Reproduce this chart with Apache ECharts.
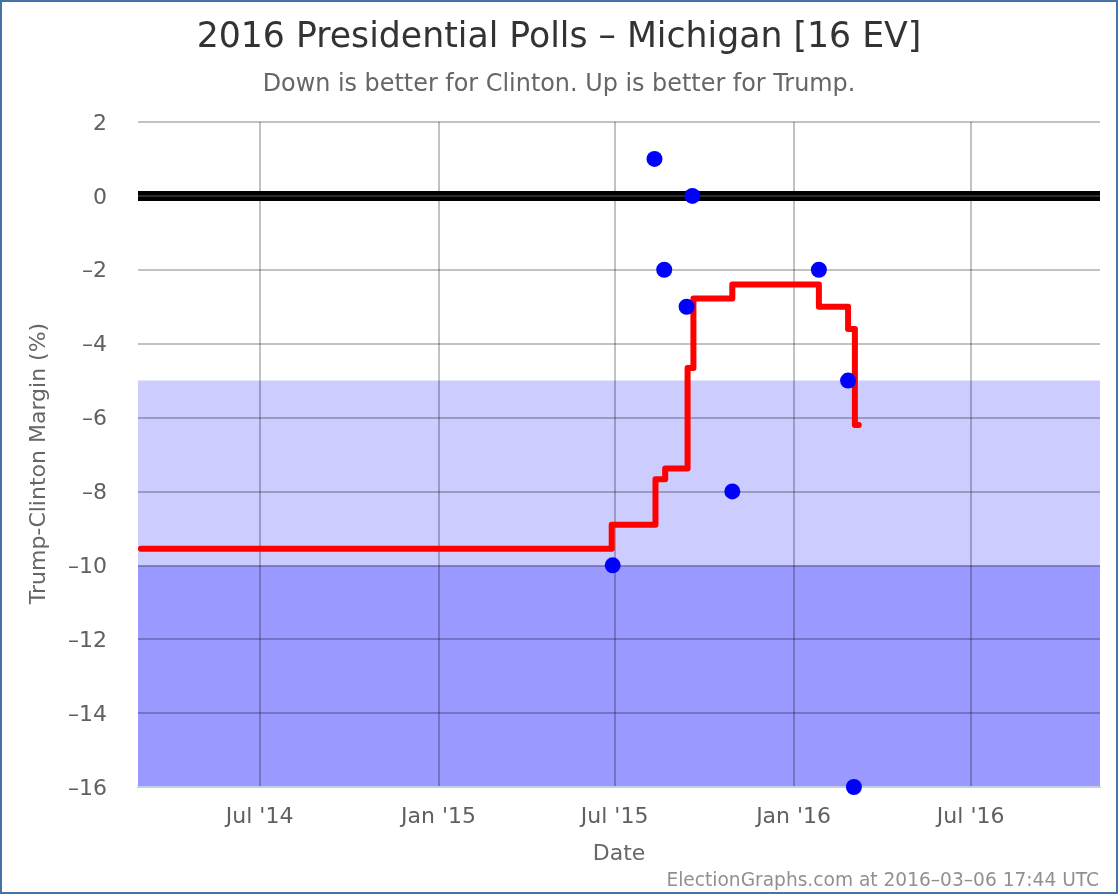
<!DOCTYPE html>
<html>
<head>
<meta charset="utf-8">
<style>html,body{margin:0;padding:0;background:#fff}#c{width:1120px;height:896px}</style>
<script src="https://cdn.jsdelivr.net/npm/echarts@6/dist/echarts.min.js"></script>
</head>
<body>
<div id="c"></div>
<script>
const tickDates = ['2014-07-01','2015-01-01','2015-07-01','2016-01-01','2016-07-01'];
const tickLabels = ["Jul '14","Jan '15","Jul '15","Jan '16","Jul '16"];
const axisStart = '2014-02-26';
const axisEnd = '2016-11-11';
const pollDates = ['2015-06-29','2015-08-11','2015-08-21','2015-09-13','2015-09-19','2015-10-30','2016-01-27','2016-02-26','2016-03-03'];
const pollMargins = [-10,1,-2,-3,0,-8,-2,-5,-16];
const avgDates = ['2014-03-01','2015-06-28','2015-08-12','2015-08-22','2015-09-14','2015-09-20','2015-10-30','2016-01-27','2016-02-26','2016-03-04','2016-03-08'];
const avgMargins = [-9.55,-8.9,-7.67,-7.38,-4.66,-2.78,-2.4,-3,-3.6,-6.2,-6.2];
const lightBand = [-10,-5];
const darkBand = [-16,-10];
const zeroLevel = 0;

const FONT = '"DejaVu Sans"';
const ts = d => Date.parse(d);
const tickTs = tickDates.map(ts);
const chart = echarts.init(document.getElementById('c'), null, {renderer:'canvas'});
chart.setOption({
  animation:false,
  backgroundColor:'#fff',
  textStyle:{fontFamily:FONT},
  title:[
    {text:'2016 Presidential Polls – Michigan [16 EV]',left:559,top:20,padding:0,textAlign:'center',textStyle:{fontFamily:FONT,fontSize:34.7,fontWeight:'normal',color:'#333'}},
    {text:'Down is better for Clinton. Up is better for Trump.',left:559,top:73,padding:0,textAlign:'center',textStyle:{fontFamily:FONT,fontSize:23.9,fontWeight:'normal',color:'#666'}},
    {text:'ElectionGraphs.com at 2016–03–06 17:44 UTC',right:21,top:872,padding:0,textStyle:{fontFamily:FONT,fontSize:18.6,fontWeight:'normal',color:'#909090'}}
  ],
  graphic:[{type:'rect',silent:true,z:100,shape:{x:1,y:1,width:1116,height:892},style:{fill:'none',stroke:'#4572A7',lineWidth:2}}],
  grid:{left:138,top:122,width:962,height:665,containLabel:false},
  xAxis:{
    type:'value',min:ts(axisStart),max:ts(axisEnd),scale:true,z:3,
    name:'Date',nameLocation:'middle',nameGap:56,
    nameTextStyle:{fontFamily:FONT,fontSize:22,color:'#666'},
    axisLine:{show:true,onZero:false,lineStyle:{color:'#C0D0E0',width:2}},
    axisTick:{show:false,customValues:tickTs},
    axisLabel:{customValues:tickTs,margin:19,fontFamily:FONT,fontSize:22,color:'#606060',hideOverlap:false,
      formatter:v=>tickLabels[tickTs.indexOf(v)]||''},
    splitLine:{show:true,lineStyle:{color:'rgba(0,0,0,0.24)',width:2}}
  },
  yAxis:{
    type:'value',min:-16,max:2,interval:2,z:2,
    name:'Trump-Clinton Margin (%)',nameLocation:'middle',nameGap:88,
    nameTextStyle:{fontFamily:FONT,fontSize:22,color:'#666',padding:[0,18,0,0]},
    axisLine:{show:false},axisTick:{show:false},
    axisLabel:{margin:31,formatter:v=>'{a|'+String(v).replace('-','–')+'}',
      rich:{a:{fontFamily:FONT,fontSize:22,color:'#606060',padding:[4,0,0,0]}}},
    splitLine:{show:true,lineStyle:{color:'rgba(0,0,0,0.24)',width:2}}
  },
  series:[
    {type:'line',z:1,data:[],silent:true,
      markArea:{silent:true,z:1,data:[
        [{yAxis:lightBand[0],itemStyle:{color:'#CCCCFF'}},{yAxis:lightBand[1]}],
        [{yAxis:darkBand[0],itemStyle:{color:'#9999FF'}},{yAxis:darkBand[1]}]
      ]}},
    {type:'line',z:4,data:[],silent:true,
      markLine:{silent:true,z:4,symbol:'none',label:{show:false},animation:false,data:[{yAxis:zeroLevel,lineStyle:{color:'#000',width:10,type:'solid'}}]}},
    {type:'line',z:5,data:[],silent:true,
      markLine:{silent:true,z:5,symbol:'none',label:{show:false},animation:false,data:[{yAxis:zeroLevel,lineStyle:{color:'#2c2c2c',width:2,type:'solid'}}]}},
    {type:'line',z:6,step:'end',showSymbol:false,symbol:'none',
      lineStyle:{color:'#FF0000',width:6,cap:'round',join:'round'},
      data:avgDates.map((d,i)=>[ts(d),avgMargins[i]])},
    {type:'scatter',z:7,clip:false,symbol:'circle',symbolSize:16,itemStyle:{color:'#0000FF',opacity:1},
      data:pollDates.map((d,i)=>[ts(d),pollMargins[i]])}
  ]
});
</script>
</body>
</html>
